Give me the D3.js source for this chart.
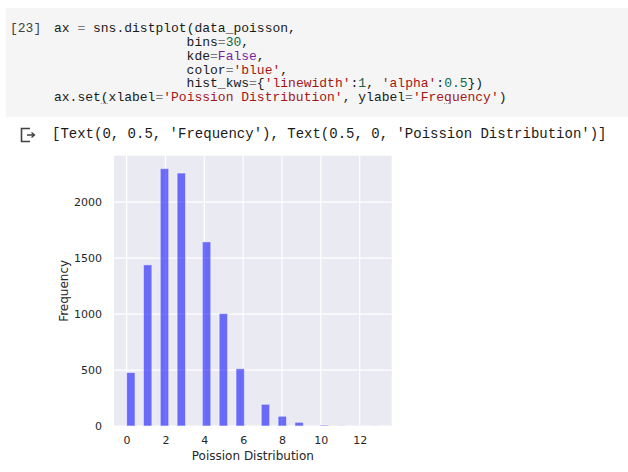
<!DOCTYPE html>
<html>
  <head>
    <meta charset="utf-8">
    <title>Poisson Distribution</title>
    <script src="https://cdn.jsdelivr.net/npm/d3@7"></script>
    <style>
      body { margin: 0; background: white; }

      .code {
        font-family: 'Liberation Mono', monospace;
        font-size: 13px;
        fill: #1a1a1a;
        white-space: pre;
      }
      .prompt { fill: #424242; }
      .op { fill: #7a7a7a; }
      .str { fill: #a31515; }
      .num { fill: #116644; }
      .const { fill: #7b1fa2; }

      .output {
        font-family: 'Liberation Mono', monospace;
        font-size: 14px;
        fill: #1a1a1a;
        white-space: pre;
      }

      .tick text {
        font-family: 'DejaVu Sans', sans-serif;
        font-size: 11px;
        fill: #262626;
      }
      .axis_label {
        font-family: 'DejaVu Sans', sans-serif;
        font-size: 12px;
        fill: #262626;
        text-anchor: middle;
      }
      .bar {
        fill: blue;
        fill-opacity: 0.55;
        stroke: white;
        stroke-opacity: 0.5;
        stroke-width: 1px;
      }
    </style>
  </head>

  <body>
    <script>

      // histogram data (counts)
      var poissonValues = [0, 1, 2, 3, 4, 5, 6, 7, 8, 9, 10, 11, 12, 13];
      var frequencies = [478, 1440, 2300, 2260, 1645, 1005, 512, 194, 87, 33, 8, 2, 1, 1];
      var nBins = 30;
      var xTicks = [0, 2, 4, 6, 8, 10, 12];
      var yTicks = [0, 500, 1000, 1500, 2000];

      // code cell lines: [text, class] tokens
      var codeLines = [
        [["ax ", ""], ["=", "op"], [" sns.distplot(data_poisson,", ""]],
        [["                 bins", ""], ["=", "op"], ["30", "num"], [",", ""]],
        [["                 kde", ""], ["=", "op"], ["False", "const"], [",", ""]],
        [["                 color", ""], ["=", "op"], ["'blue'", "str"], [",", ""]],
        [["                 hist_kws", ""], ["=", "op"], ["{", ""], ["'linewidth'", "str"], [":", ""], ["1", "num"],
         [", ", ""], ["'alpha'", "str"], [":", ""], ["0.5", "num"], ["})", ""]],
        [["ax.set(xlabel", ""], ["=", "op"], ["'Poission Distribution'", "str"], [", ylabel", ""], ["=", "op"],
         ["'Frequency'", "str"], [")", ""]]
      ];
      var outputText = "[Text(0, 0.5, 'Frequency'), Text(0.5, 0, 'Poission Distribution')]";

      var width = 628, height = 472;
      var plot = { left: 114, right: 391.7, top: 155.7, bottom: 426 };

      var svg = d3.select("body").append("svg")
        .attr("width", width)
        .attr("height", height);

      // ---- notebook cell ----
      svg.append("rect")
        .attr("x", 6).attr("y", 8)
        .attr("width", width - 6).attr("height", 109)
        .attr("fill", "#f5f5f5");

      svg.append("text")
        .attr("class", "code prompt")
        .attr("x", 10).attr("y", 32)
        .text("[23]");

      codeLines.forEach(function(tokens, i) {
        var t = svg.append("text")
          .attr("class", "code")
          .attr("x", 54)
          .attr("y", 32 + i * 13.85);
        tokens.forEach(function(tk) {
          t.append("tspan").attr("class", tk[1]).text(tk[0]);
        });
      });

      // bracket match marks on the last code line
      var charW = 7.8;
      [6, 50].forEach(function(c) {
        svg.append("line")
          .attr("x1", 54 + c * charW).attr("x2", 54 + (c + 1) * charW)
          .attr("y1", 103.5).attr("y2", 103.5)
          .attr("stroke", "#9e9e9e")
          .attr("stroke-width", 1)
          .attr("stroke-dasharray", "1,1");
      });

      // output icon
      svg.append("path")
        .attr("d", "M30,128.5 H21.5 V141.5 H30")
        .attr("fill", "none")
        .attr("stroke", "#424242")
        .attr("stroke-width", 1.6);
      svg.append("path")
        .attr("d", "M27,135 H34 M31.5,132.5 L34.5,135 L31.5,137.5")
        .attr("fill", "none")
        .attr("stroke", "#424242")
        .attr("stroke-width", 1.4);

      svg.append("text")
        .attr("class", "output")
        .attr("x", 52).attr("y", 138)
        .text(outputText);

      // ---- histogram ----
      var dataMin = d3.min(poissonValues), dataMax = d3.max(poissonValues);
      var binWidth = (dataMax - dataMin) / nBins;
      var pad = (dataMax - dataMin) * 0.05;

      var bars = poissonValues.map(function(v, i) {
        var idx = Math.min(Math.floor((v - dataMin) / binWidth), nBins - 1);
        return { x0: dataMin + idx * binWidth, x1: dataMin + (idx + 1) * binWidth, count: frequencies[i] };
      });

      var xScale = d3.scaleLinear()
        .domain([dataMin - pad, dataMax + pad])
        .range([plot.left, plot.right]);

      var yScale = d3.scaleLinear()
        .domain([0, d3.max(frequencies) * 1.05])
        .range([plot.bottom, plot.top]);

      svg.append("rect")
        .attr("x", plot.left).attr("y", plot.top)
        .attr("width", plot.right - plot.left)
        .attr("height", plot.bottom - plot.top)
        .attr("fill", "#eaeaf2");

      // grid lines
      svg.append("g").selectAll("line")
        .data(xTicks).enter().append("line")
        .attr("x1", function(d) { return xScale(d); })
        .attr("x2", function(d) { return xScale(d); })
        .attr("y1", plot.top).attr("y2", plot.bottom)
        .attr("stroke", "white").attr("stroke-width", 1.2);

      svg.append("g").selectAll("line")
        .data(yTicks).enter().append("line")
        .attr("x1", plot.left).attr("x2", plot.right)
        .attr("y1", function(d) { return yScale(d); })
        .attr("y2", function(d) { return yScale(d); })
        .attr("stroke", "white").attr("stroke-width", 1.2);

      // bars
      svg.append("g").selectAll("rect")
        .data(bars).enter().append("rect")
        .attr("class", "bar")
        .attr("x", function(d) { return xScale(d.x0); })
        .attr("width", function(d) { return xScale(d.x1) - xScale(d.x0); })
        .attr("y", function(d) { return yScale(d.count); })
        .attr("height", function(d) { return yScale(0) - yScale(d.count); });

      // axes
      var xAxis = svg.append("g")
        .attr("transform", "translate(0," + plot.bottom + ")")
        .call(d3.axisBottom(xScale).tickValues(xTicks).tickSize(0).tickPadding(10));
      xAxis.select(".domain").remove();

      var yAxis = svg.append("g")
        .attr("transform", "translate(" + plot.left + ",0)")
        .call(d3.axisLeft(yScale).tickValues(yTicks).tickFormat(d3.format("d"))
          .tickSize(0).tickPadding(12));
      yAxis.select(".domain").remove();

      svg.append("text")
        .attr("class", "axis_label")
        .attr("x", (plot.left + plot.right) / 2)
        .attr("y", 460)
        .text("Poission Distribution");

      svg.append("text")
        .attr("class", "axis_label")
        .attr("transform", "translate(68," + (plot.top + plot.bottom) / 2 + ") rotate(-90)")
        .text("Frequency");

    </script>
  </body>
</html>
